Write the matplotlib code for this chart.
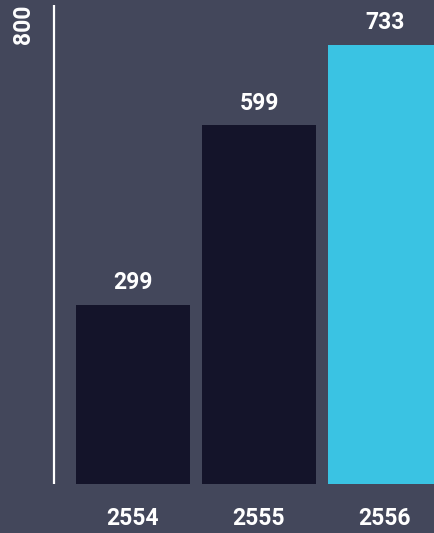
import matplotlib
matplotlib.use("Agg")
import matplotlib.pyplot as plt

# Data
years = ["2554", "2555", "2556"]
values = [299, 599, 733]
bar_colors = ["#14142a", "#14142a", "#3ac3e3"]
y_top = 800

bg = "#43475b"

fig = plt.figure(figsize=(4.34, 5.33), dpi=100, facecolor=bg)
ax = fig.add_axes([0, 49 / 533, 1, 479 / 533])
ax.set_facecolor(bg)

x = list(range(len(years)))
ax.bar(x, values, width=114 / 126, color=bar_colors, zorder=2)

ax.set_xlim(-133 / 126, (434 - 133) / 126)
ax.set_ylim(0, y_top)

# vertical axis line
ax.plot([(54 - 133) / 126] * 2, [0, y_top], color="white", linewidth=1.6,
        solid_capstyle="butt", zorder=3, clip_on=False)

font = dict(family=["Roboto", "DejaVu Sans"], fontweight="bold", color="white", fontsize=16.5)

for xi, v, yr in zip(x, values, years):
    ax.annotate(str(v), xy=(xi, v), xytext=(0, 16), textcoords="offset points",
                ha="center", va="center", **font)
    ax.annotate(yr, xy=(xi, 0), xytext=(0, -25), textcoords="offset points",
                ha="center", va="center", annotation_clip=False, **font)

ax.text((24 - 133) / 126, y_top, str(y_top), rotation=90, ha="center", va="top", **font)

for s in ax.spines.values():
    s.set_visible(False)
ax.set_xticks([])
ax.set_yticks([])

fig.savefig("out.png", dpi=100, facecolor=bg)
